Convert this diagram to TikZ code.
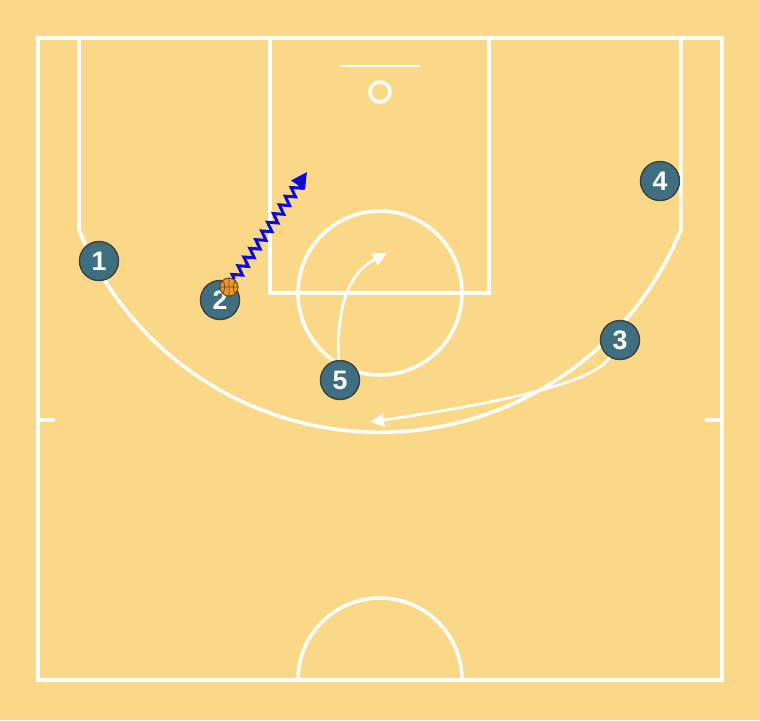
\documentclass[tikz,border=0pt]{standalone}
\usepackage{fontspec}
\setsansfont{Liberation Sans}
\usepackage{tikz}
\usetikzlibrary{arrows.meta}
\usetikzlibrary{decorations.pathmorphing}
\definecolor{court}{RGB}{250,216,136}
\definecolor{playerteal}{RGB}{61,111,128}
\definecolor{ballorange}{RGB}{240,150,40}
\definecolor{dribble}{RGB}{10,10,225}
\tikzstyle{line}=[white, line width=1pt]
\tikzstyle{player}=[circle, minimum size=0.39cm, inner sep=0pt, draw=black!75, fill=playerteal, text=white, font=\sffamily\bfseries\fontsize{7.6}{8}\selectfont]
\tikzstyle{ball}=[circle, minimum size=0.18cm, inner sep=0pt, draw=brown!60!black, line width=0.3pt, fill=ballorange]
\tikzstyle{cut}=[white, line width=0.75pt, -{Triangle[length=0.14cm, width=0.13cm]}]
\tikzstyle{dribbling}=[dribble, line width=0.85pt, decorate, decoration={zigzag, segment length=0.105cm, amplitude=0.045cm, post length=0.12cm}, -{Triangle[length=0.16cm, width=0.16cm]}]

\begin{document}
\begin{tikzpicture}[x=0.01cm, y=-0.01cm]
    \fill[court] (0,0) rectangle (760,720);

    \draw[line] (38,38) rectangle (722,680);
    \draw[line] (270,38) rectangle (489,293);
    \draw[line] (380,293) circle[radius=82];
    \draw[line, line width=0.7pt] (340,66) -- (420,66);
    \draw[line] (380,92) circle[radius=10];
    \draw[line] (79,38) -- (79,230) arc[start angle=157.8, end angle=22.2, radius=325] -- (681,38);
    \draw[line] (38,420) -- (55,420) (705,420) -- (722,420);
    \draw[line] (298,680) arc[start angle=180, end angle=360, radius=82];

    \node[player] (p1) at (99,261) {1};
    \node[player] (p2) at (220,300) {2};
    \node[player] (p3) at (620,340) {3};
    \node[player] (p4) at (660,181) {4};
    \node[player] (p5) at (340,380) {5};

    \node[ball] (ball) at (229,287) {};
    \draw[brown!60!black, line width=0.25pt] (ball.north) -- (ball.south) (ball.west) -- (ball.east)
      (ball.north west) to[bend left=40] (ball.south west) (ball.north east) to[bend right=40] (ball.south east);

    \coordinate (drEnd) at (307,172);
    \draw[dribbling] (ball) -- (drEnd);

    \coordinate (cutFive) at (387,253);
    \draw[cut] (p5) .. controls (336,305) and (350,272) .. (cutFive);
    \coordinate (cutThree) at (370,422);
    \draw[cut] (p3) .. controls (596,380) and (520,400) .. (cutThree);
  \end{tikzpicture}
\end{document}
